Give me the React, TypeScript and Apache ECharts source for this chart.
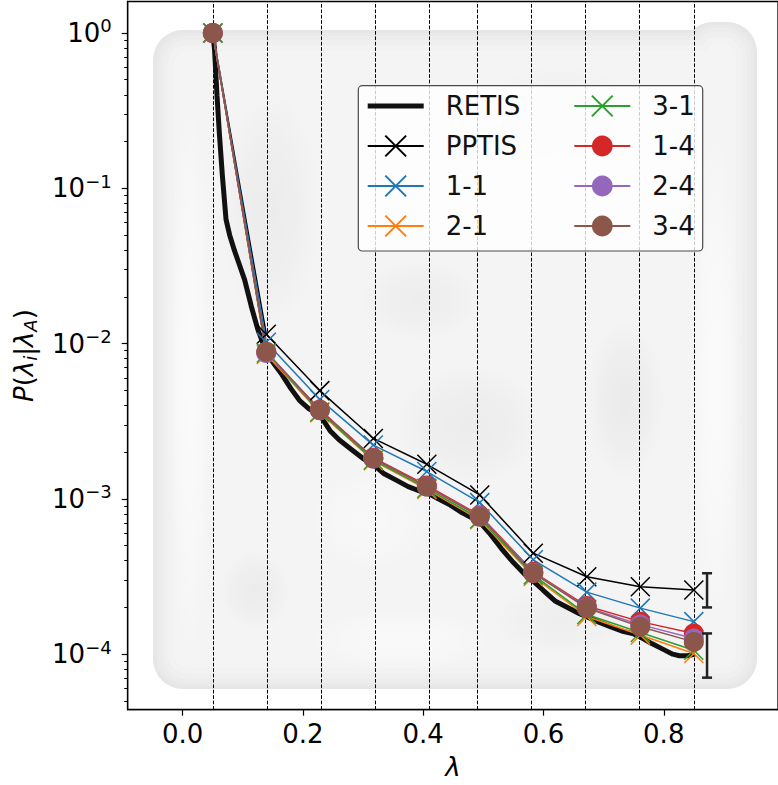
import React, { useEffect, useRef } from 'react';
import * as echarts from 'echarts';

const FONT = 'DejaVu Sans';

// interface positions (lambda)
const interfaces = [0.05, 0.139, 0.228, 0.317, 0.406, 0.494, 0.583, 0.672, 0.761, 0.85];

// crossing probabilities at the interfaces
const pptis = [1, 1.15e-2, 4.98e-3, 2.45e-3, 1.67e-3, 1.06e-3, 4.47e-4, 3.15e-4, 2.72e-4, 2.59e-4];
const s11 = [1, 1.02e-2, 4.37e-3, 2.22e-3, 1.5e-3, 9.46e-4, 4.05e-4, 2.51e-4, 1.98e-4, 1.62e-4];
const s21 = [1, 8.5e-3, 3.59e-3, 1.76e-3, 1.15e-3, 7.33e-4, 3.16e-4, 1.75e-4, 1.33e-4, 1.01e-4];
const s31 = [1, 8.7e-3, 3.63e-3, 1.78e-3, 1.17e-3, 7.45e-4, 3.24e-4, 1.8e-4, 1.38e-4, 1.06e-4];
const s14 = [1, 8.8e-3, 3.76e-3, 1.84e-3, 1.22e-3, 7.85e-4, 3.39e-4, 2.04e-4, 1.62e-4, 1.36e-4];
const s24 = [1, 8.7e-3, 3.72e-3, 1.82e-3, 1.2e-3, 7.76e-4, 3.35e-4, 2.0e-4, 1.55e-4, 1.26e-4];
const s34 = [1, 8.87e-3, 3.73e-3, 1.82e-3, 1.2e-3, 7.67e-4, 3.32e-4, 1.98e-4, 1.5e-4, 1.2e-4];

// RETIS dense curve
const retisLambda = [
  0.05, 0.053, 0.057, 0.061, 0.066, 0.072, 0.078, 0.086, 0.094, 0.103, 0.114, 0.125, 0.133, 0.141,
  0.15, 0.165, 0.18, 0.195, 0.21, 0.228, 0.245, 0.26, 0.28, 0.3, 0.317, 0.335, 0.355, 0.375, 0.395,
  0.406, 0.425, 0.445, 0.465, 0.48, 0.494, 0.51, 0.53, 0.55, 0.57, 0.583, 0.6, 0.62, 0.64, 0.66,
  0.672, 0.69, 0.71, 0.73, 0.75, 0.761, 0.78, 0.8, 0.815, 0.826, 0.84, 0.852,
];
const retisP = [
  1, 0.776, 0.398, 0.224, 0.12, 0.0631, 0.0501, 0.0398, 0.0324, 0.0257, 0.0174, 0.0123, 0.0102, 0.00871,
  0.00759, 0.00631, 0.00513, 0.00427, 0.0038, 0.00347, 0.00275, 0.0024, 0.00209, 0.00182, 0.00166,
  0.00145, 0.00132, 0.0012, 0.00112, 0.0011, 0.001, 0.000912, 0.000813, 0.000759, 0.000708, 0.000603,
  0.000479, 0.000389, 0.000324, 0.000295, 0.000257, 0.000219, 0.0002, 0.000182, 0.000174, 0.000162,
  0.000151, 0.000141, 0.000135, 0.000129, 0.000117, 0.000107, 0.0001, 0.0000977, 0.0000977, 0.0001,
];

// error bars (lambda, low, high)
const errLambda = [0.872, 0.872];
const errLow = [2.0e-4, 7.06e-5];
const errHigh = [3.32e-4, 1.36e-4];

const xTicks = [0, 0.2, 0.4, 0.6, 0.8];
const yTicks = [1e-4, 1e-3, 1e-2, 1e-1, 1];
const yTickExp = ['−4', '−3', '−2', '−1', '0'];
const minorMult = [2, 3, 4, 5, 6, 7, 8, 9];
const minorDecades = [1e-5, 1e-4, 1e-3, 1e-2, 1e-1];

const X_MIN = -0.0915;
const X_MAX = 0.99;
const Y_MIN = 4.39e-5;
const Y_MAX = 1.595;

const C = {
  black: '#000000',
  blue: '#1f77b4',
  orange: '#ff7f0e',
  green: '#2ca02c',
  red: '#d62728',
  purple: '#9467bd',
  brown: '#8c564b',
};

const CROSS = 'path://M0,0L10,10M10,0L0,10';

function crossSeries(name: string, vals: number[], color: string) {
  return {
    name,
    type: 'line',
    data: interfaces.map((x, i) => [x, vals[i]]),
    symbol: CROSS,
    symbolSize: 19,
    showSymbol: true,
    lineStyle: { color, width: 1.5 },
    itemStyle: { color, borderColor: color, borderWidth: 1.5 },
    emphasis: { disabled: true },
    z: 3,
  };
}

function dotSeries(name: string, vals: number[], color: string) {
  return {
    name,
    type: 'line',
    data: interfaces.map((x, i) => [x, vals[i]]),
    symbol: 'circle',
    symbolSize: 20,
    showSymbol: true,
    lineStyle: { color, width: 1.5 },
    itemStyle: { color, borderWidth: 0 },
    emphasis: { disabled: true },
    z: 3,
  };
}

// soft background patch (radial gradient)
function patch(cx: number, cy: number, rx: number, ry: number, rgb: string, a: number) {
  return {
    type: 'ellipse', z: -3, silent: true,
    shape: { cx, cy, rx, ry },
    style: {
      fill: {
        type: 'radial', x: 0.5, y: 0.5, r: 0.5,
        colorStops: [
          { offset: 0, color: `rgba(${rgb},${a})` },
          { offset: 0.6, color: `rgba(${rgb},${a * 0.6})` },
          { offset: 1, color: `rgba(${rgb},0)` },
        ],
      },
    },
  };
}

// concentric layers of the rounded background blob
const blobLayers = [
  { inset: 0, fill: '#e6e6e6' },
  { inset: 3, fill: '#e9e9e9' },
  { inset: 6, fill: '#ececec' },
  { inset: 10, fill: '#efefef' },
  { inset: 15, fill: '#f2f2f2' },
  { inset: 21, fill: '#f4f4f4' },
];

export default function App() {
  const ref = useRef<HTMLDivElement>(null);
  useEffect(() => {
    if (!ref.current) return;
    const chart = echarts.init(ref.current, null, { renderer: 'svg' });

    const minorTicks: number[] = [];
    minorDecades.forEach((d) => minorMult.forEach((m) => minorTicks.push(m * d)));

    const blob: any[] = [];
    blobLayers.forEach((l, i) => {
      blob.push({
        type: 'rect', z: -5 + i * 0.1, silent: true,
        shape: { x: 153 + l.inset, y: 30 + l.inset, width: 604 - 2 * l.inset, height: 659 - 2 * l.inset, r: Math.max(30 - l.inset * 0.7, 8) },
        style: { fill: l.fill },
      });
      blob.push({
        type: 'rect', z: -5 + i * 0.1, silent: true,
        shape: { x: 683 + l.inset, y: 22 + l.inset, width: 74 - 2 * l.inset, height: 130, r: Math.max(30 - l.inset * 0.7, 8) },
        style: { fill: l.fill },
      });
    });

    const option: any = {
      animation: false,
      textStyle: { fontFamily: FONT },
      grid: {
        left: 127.7,
        top: 1.5,
        right: -3,
        bottom: 75.3,
        show: true,
        borderColor: '#000',
        borderWidth: 1.3,
        backgroundColor: 'transparent',
      },
      graphic: [
        ...blob,
        patch(270, 210, 50, 120, '0,0,0', 0.035),
        patch(470, 425, 75, 60, '0,0,0', 0.035),
        patch(625, 400, 40, 80, '0,0,0', 0.04),
        patch(255, 590, 35, 40, '0,0,0', 0.035),
        patch(420, 300, 60, 40, '0,0,0', 0.03),
        patch(560, 620, 70, 35, '0,0,0', 0.025),
        patch(560, 120, 80, 60, '0,0,0', 0.02),
        patch(190, 380, 22, 280, '255,255,255', 0.6),
        patch(715, 380, 25, 250, '255,255,255', 0.6),
        patch(400, 640, 90, 30, '255,255,255', 0.5),
        patch(370, 520, 60, 50, '255,255,255', 0.4),
        // legend frame
        {
          type: 'rect', z: 3.5, silent: true, shape: { x: 358.3, y: 85.7, width: 344.4, height: 165.3, r: 4 },
          style: { fill: 'rgba(255,255,255,0.8)', stroke: '#4a4a4a', lineWidth: 1.2 },
        },
      ],
      legend: [
        {
          orient: 'vertical', left: 366.7, top: 93, padding: 0, itemGap: 14, itemWidth: 56, itemHeight: 26,
          data: [
            { name: 'RETIS', icon: 'path://M0,0L56,0L56,5L0,5Z' },
            'PPTIS', '1-1', '2-1',
          ],
          selectedMode: false, z: 5,
          textStyle: { fontFamily: FONT, fontSize: 26, color: '#111', padding: [0, 0, 0, 17] },
        },
        {
          orient: 'vertical', left: 573.3, top: 93, padding: 0, itemGap: 14, itemWidth: 56, itemHeight: 26,
          data: ['3-1', '1-4', '2-4', '3-4'], selectedMode: false, z: 5,
          textStyle: { fontFamily: FONT, fontSize: 26, color: '#111', padding: [0, 0, 0, 17] },
        },
      ],
      xAxis: {
        type: 'value',
        min: X_MIN,
        max: X_MAX,
        name: 'λ',
        nameLocation: 'middle',
        nameGap: 44,
        nameTextStyle: { fontFamily: FONT, fontSize: 26, fontStyle: 'italic', color: '#000' },
        axisLine: { show: true, onZero: false, lineStyle: { color: '#000', width: 1.3 } },
        axisTick: { show: true, length: 6, customValues: xTicks, lineStyle: { color: '#000', width: 1.2 } },
        axisLabel: {
          customValues: xTicks,
          formatter: (v: number) => v.toFixed(1),
          fontFamily: FONT, fontSize: 26, color: '#000', margin: 11,
        },
        splitLine: { show: false },
      },
      yAxis: [
        {
          type: 'log',
          logBase: 10,
          min: Y_MIN,
          max: Y_MAX,
          name: '{it|P}{n|(}{it|λ}{sub|i}{n||}{it|λ}{sub|A}{n|)}',
          nameLocation: 'middle',
          nameRotate: 90,
          nameGap: 88,
          nameTextStyle: {
            fontFamily: FONT, fontSize: 26, color: '#000',
            rich: {
              it: { fontFamily: FONT, fontSize: 26, fontStyle: 'italic', lineHeight: 32 },
              n: { fontFamily: FONT, fontSize: 26, lineHeight: 32 },
              sub: { fontFamily: FONT, fontSize: 18, fontStyle: 'italic', verticalAlign: 'bottom', lineHeight: 18 },
            },
          },
          axisLine: { show: true, onZero: false, lineStyle: { color: '#000', width: 1.3 } },
          axisTick: { show: true, length: 6, customValues: yTicks, lineStyle: { color: '#000', width: 1.2 } },
          axisLabel: {
            customValues: yTicks,
            margin: 16,
            formatter: (v: number) => {
              const idx = yTicks.findIndex((t) => Math.abs(Math.log10(t) - Math.log10(v)) < 1e-6);
              return '{b|10}{s|' + (idx >= 0 ? yTickExp[idx] : '') + '}';
            },
            rich: {
              b: { fontFamily: FONT, fontSize: 26, color: '#000', lineHeight: 32 },
              s: { fontFamily: FONT, fontSize: 18, color: '#000', verticalAlign: 'top', lineHeight: 20 },
            },
          },
          splitLine: { show: false },
          minorTick: { show: false },
        },
        {
          type: 'log',
          logBase: 10,
          min: Y_MIN,
          max: Y_MAX,
          position: 'left',
          axisLine: { show: false, onZero: false },
          axisTick: { show: true, length: 3.5, customValues: minorTicks, lineStyle: { color: '#000', width: 1 } },
          axisLabel: { show: false },
          splitLine: { show: false },
          minorTick: { show: false },
        },
      ],
      series: [
        {
          name: 'RETIS',
          type: 'line',
          data: retisLambda.map((x, i) => [x, retisP[i]]),
          symbol: 'none',
          showSymbol: false,
          lineStyle: { color: '#111', width: 5 },
          itemStyle: { color: '#111' },
          emphasis: { disabled: true },
          z: 2,
          markLine: {
            silent: true,
            symbol: ['none', 'none'],
            label: { show: false },
            lineStyle: { color: '#000', width: 1, type: [3.7, 1.7] },
            data: interfaces.map((x) => ({ xAxis: x })),
            z: 1,
          },
        },
        crossSeries('PPTIS', pptis, C.black),
        crossSeries('1-1', s11, C.blue),
        crossSeries('2-1', s21, C.orange),
        crossSeries('3-1', s31, C.green),
        dotSeries('1-4', s14, C.red),
        dotSeries('2-4', s24, C.purple),
        dotSeries('3-4', s34, C.brown),
        {
          name: 'err',
          type: 'custom',
          data: errLambda.map((x, i) => [x, errLow[i], errHigh[i]]),
          encode: { x: 0, y: [1, 2] },
          z: 4,
          renderItem: (params: any, api: any) => {
            const x = api.value(0);
            const lo = api.coord([x, api.value(1)]);
            const hi = api.coord([x, api.value(2)]);
            const st = { stroke: '#222', lineWidth: 2.5 };
            return {
              type: 'group',
              children: [
                { type: 'line', shape: { x1: lo[0], y1: lo[1], x2: hi[0], y2: hi[1] }, style: st },
                { type: 'line', shape: { x1: lo[0] - 5, y1: lo[1], x2: lo[0] + 5, y2: lo[1] }, style: st },
                { type: 'line', shape: { x1: hi[0] - 5, y1: hi[1], x2: hi[0] + 5, y2: hi[1] }, style: st },
              ],
            };
          },
        },
      ],
    };
    chart.setOption(option);
    return () => chart.dispose();
  }, []);
  return <div ref={ref} style={{ position: 'absolute', left: 0, top: 0, width: 778, height: 785 }} />;
}
